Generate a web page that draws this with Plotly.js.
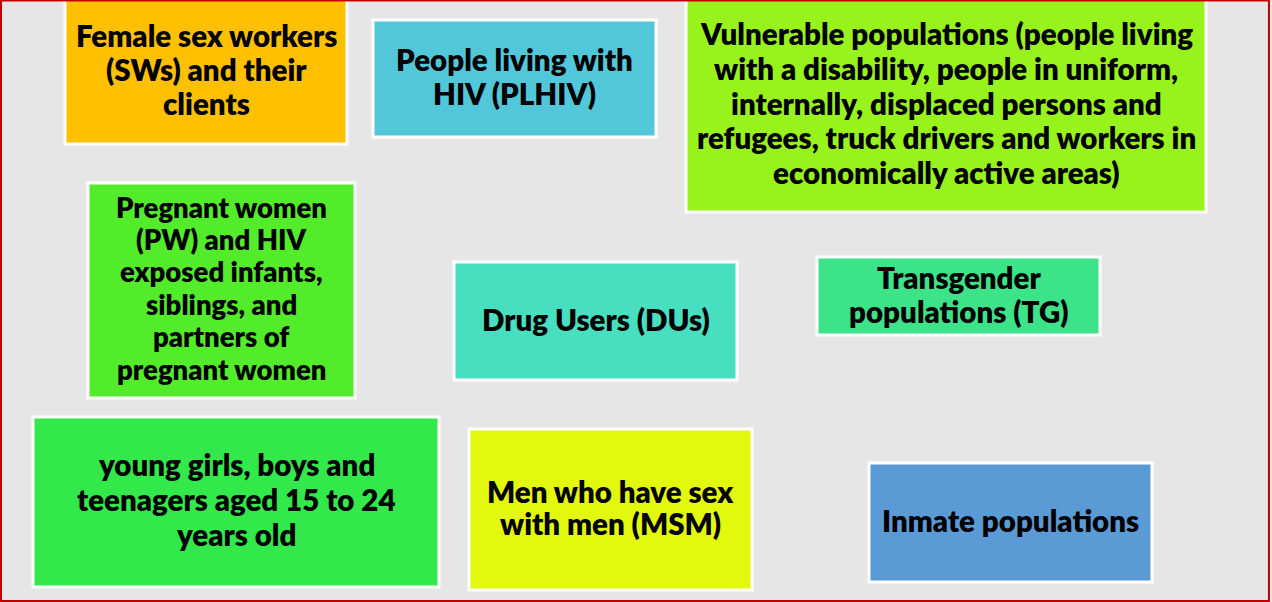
<!DOCTYPE html>
<html>
<head>
<meta charset="utf-8">
<script src="https://cdn.plot.ly/plotly-3.0.1.min.js"></script>
<style>html,body{margin:0;padding:0;background:#fff;}#chart{width:1272px;height:602px;}</style>
</head>
<body>
<div id="chart"></div>
<script>
// Group labels (lines separated by <br>)
const labels = [
  "Female sex workers<br>(SWs) and their<br>clients",
  "People living with<br>HIV (PLHIV)",
  "Vulnerable populations (people living<br>with a disability, people in uniform,<br>internally, displaced persons and<br>refugees, truck drivers and workers in<br>economically active areas)",
  "Pregnant women<br>(PW) and HIV<br>exposed infants,<br>siblings, and<br>partners of<br>pregnant women",
  "Drug Users (DUs)",
  "Transgender<br>populations (TG)",
  "young girls, boys and<br>teenagers aged 15 to 24<br>years old",
  "Men who have sex<br>with men (MSM)",
  "Inmate populations"
];
// Box extents in page pixel units
const boxX0 = [65, 373, 686, 88, 454, 817, 33, 469, 869];
const boxX1 = [347, 656, 1206, 355, 737, 1100, 439, 752, 1152];
const boxY0 = [-5, 20, -5, 183, 262, 257, 417, 429, 463];
const boxY1 = [144, 137, 212, 398, 380, 335, 587, 590, 582];
const boxColors = ["#FFC000", "#52C7D9", "#98F21C", "#53EC2A", "#48DFC0", "#3CE389", "#32E84B", "#E2F80C", "#5B9BD5"];
const fontSizes = [29.5, 29.5, 29.5, 27.5, 29.5, 29.5, 29.5, 29.5, 29.5];
const lineGaps = [34, 34, 34.8, 32.4, 34, 34, 35, 32, 34];
const textCY = [69, 76, 103, 288, 319, 294, 499, 507, 520];

const shapes = [];
for (let i = 0; i < labels.length; i++) {
  shapes.push({
    type: "rect", xref: "x", yref: "y",
    x0: boxX0[i], x1: boxX1[i], y0: boxY0[i], y1: boxY1[i],
    fillcolor: boxColors[i], line: {color: "#FFFFFF", width: 3}, layer: "above"
  });
}
// outer red frame
shapes.push({type: "rect", xref: "paper", yref: "paper", x0: 0.0008, x1: 0.9976, y0: 0.0016, y1: 0.9992,
  line: {color: "#C00000", width: 2}, fillcolor: "rgba(0,0,0,0)", layer: "above"});

const annotations = [];
labels.forEach((t, i) => {
  const lines = t.split("<br>");
  const n = lines.length;
  lines.forEach((ln, k) => {
    annotations.push({
      xref: "x", yref: "y",
      x: (boxX0[i] + boxX1[i]) / 2,
      y: textCY[i] + (k - (n - 1) / 2) * lineGaps[i],
      text: ln, showarrow: false, align: "center", yanchor: "middle",
      font: {family: "Lato, 'Noto Sans', sans-serif", size: fontSizes[i], color: "#000000", weight: 800}
    });
  });
});

const layout = {
  width: 1272, height: 602,
  margin: {l: 0, r: 0, t: 0, b: 0, pad: 0},
  paper_bgcolor: "#FFFFFF",
  plot_bgcolor: "#E6E6E6",
  showlegend: false,
  xaxis: {range: [0, 1272], visible: false, fixedrange: true},
  yaxis: {range: [602, 0], visible: false, fixedrange: true},
  shapes: shapes,
  annotations: annotations
};
const trace = {x: [0], y: [0], mode: "markers", marker: {opacity: 0}, hoverinfo: "skip", type: "scatter"};
Plotly.newPlot("chart", [trace], layout, {displayModeBar: false, staticPlot: true});
</script>
</body>
</html>
